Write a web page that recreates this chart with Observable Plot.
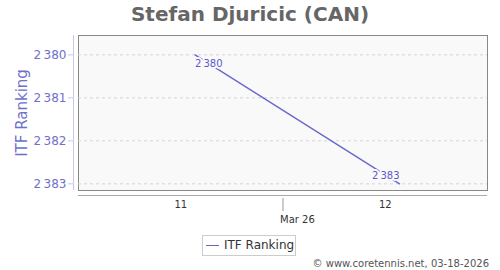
<!DOCTYPE html>
<html><head><meta charset="utf-8">
<script src="https://cdn.jsdelivr.net/npm/d3@7"></script>
<script src="https://cdn.jsdelivr.net/npm/@observablehq/plot@0.6"></script>
<style>
body{margin:0;background:#fff;font-family:"DejaVu Sans",sans-serif;}
#wrap{position:relative;width:500px;height:270px;overflow:hidden;}
#chart{position:absolute;left:0;top:0;}
#title{position:absolute;left:0;top:1px;width:500px;text-align:center;font-weight:bold;font-size:20px;color:#666;line-height:26px;}
#legend{position:absolute;left:202px;top:235px;width:94px;height:21px;border:1px solid #ccc;box-sizing:border-box;background:#fff;font-size:12px;color:#333;line-height:19px;white-space:nowrap;}
#legend .sw{display:inline-block;width:13px;height:0;border-top:1.5px solid #6666cc;vertical-align:middle;margin:0 5px 0 3px;}
#caption{position:absolute;right:11px;top:257px;font-size:10px;color:#555;line-height:13px;white-space:nowrap;}
</style></head>
<body>
<div id="wrap">
  <div id="chart"></div>
  <div id="title"></div>
  <div id="legend"><span class="sw"></span><span id="legtext"></span></div>
  <div id="caption"></div>
</div>
<script>
const title = "Stefan Djuricic (CAN)";
const seriesName = "ITF Ranking";
const xDays = [11.07, 12.07];
const ranking = [2380, 2383];
const yTicks = [2380, 2381, 2382, 2383];
const xTicks = [11, 12];
const monthStarts = [11.5];
const monthLabel = "Mar 26";
const caption = "© www.coretennis.net, 03-18-2026";

const xDomain = [10.5, 12.5];
const yDomain = [2379.55, 2383.155];

const loc = d3.formatLocale({decimal: ".", thousands: "\u2009", grouping: [3], currency: ["", ""]});
const fmt = loc.format(",d");

const data = xDays.map((x, i) => ({x, y: ranking[i]}));

document.getElementById("title").textContent = title;
document.getElementById("legtext").textContent = seriesName;
document.getElementById("caption").textContent = caption;

const lineColor = "#6666cc";
const axisColor = "#7070cc";

const chart = Plot.plot({
  width: 500, height: 270,
  marginTop: 35, marginBottom: 80, marginLeft: 78, marginRight: 13,
  style: {background: "transparent", fontFamily: "DejaVu Sans, sans-serif"},
  x: {domain: xDomain},
  y: {domain: yDomain, reverse: true},
  marks: [
    Plot.frame({fill: "#f9f9f9", stroke: "#888"}),
    Plot.gridY(yTicks, {stroke: "#d4d4d4", strokeOpacity: 1, strokeDasharray: "3,3"}),
    Plot.ruleX([xDomain[0]], {dx: -5, stroke: "#c8c8ee"}),
    Plot.axisY(yTicks, {tickFormat: fmt, dx: -5, tickSize: 0, color: axisColor, fontSize: 12, label: null, tickPadding: 7}),
    Plot.axisY(yTicks, {tickFormat: () => "", dx: -5, tickSize: 5, stroke: "#c8c8ee", label: null}),
    Plot.ruleY([yDomain[1]], {dy: 5, stroke: "#aaa"}),
    Plot.axisX(xTicks, {tickSize: 0, tickPadding: 10, tickFormat: d => String(d), fontSize: 10, color: "#333", label: null}),
    Plot.axisX(monthStarts, {tickSize: 13, dy: 8, stroke: "#999", tickFormat: () => "", label: null}),
    Plot.axisX(monthStarts, {tickSize: 0, tickPadding: 25, tickFormat: () => monthLabel, textAnchor: "start", dx: -3, fontSize: 10, color: "#333", label: null}),
    Plot.text([seriesName], {frameAnchor: "left", textAnchor: "middle", rotate: -90, dx: -56, fontSize: 15, fill: axisColor}),
    Plot.line(data, {x: "x", y: "y", stroke: lineColor, strokeWidth: 1.3}),
    Plot.text(data.slice(0, 1), {x: "x", y: "y", text: d => fmt(d.y), textAnchor: "start", dy: 9, fontSize: 10, fill: "#5a5acc", stroke: "#f9f9f9", strokeWidth: 4}),
    Plot.text(data.slice(-1), {x: "x", y: "y", text: d => fmt(d.y), textAnchor: "end", dy: -8, fontSize: 10, fill: "#5a5acc", stroke: "#f9f9f9", strokeWidth: 4})
  ]
});
document.getElementById("chart").appendChild(chart);
</script>
</body></html>
